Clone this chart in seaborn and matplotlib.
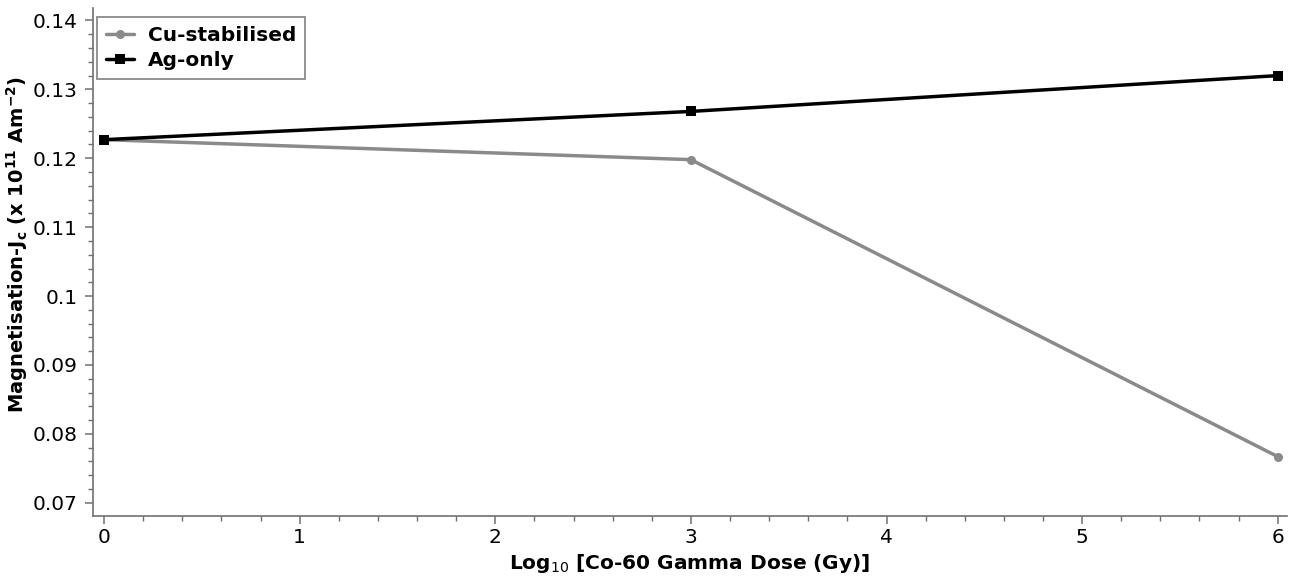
import matplotlib
matplotlib.use("Agg")
import matplotlib.pyplot as plt
from matplotlib.ticker import MultipleLocator
import seaborn as sns
import pandas as pd

# Irradiation series: log10 dose vs magnetisation Jc
log_dose = [0, 3, 6]
cu_stabilised = [0.1227, 0.1198, 0.0767]
ag_only = [0.1227, 0.1268, 0.1320]
series_names = ["Cu-stabilised", "Ag-only"]

df = pd.concat([
    pd.DataFrame({"dose": log_dose, "jc": cu_stabilised, "sample": series_names[0]}),
    pd.DataFrame({"dose": log_dose, "jc": ag_only, "sample": series_names[1]}),
])

sns.set_style("ticks")
plt.rcParams["font.family"] = ["DejaVu Sans"]

fig = plt.figure(figsize=(12.93, 5.77), dpi=100)
ax = fig.add_axes([0.072, 0.106, 0.923, 0.880])

palette = {"Cu-stabilised": "#8a8a8a", "Ag-only": "#000000"}
markers = {"Cu-stabilised": "o", "Ag-only": "s"}
sns.lineplot(data=df, x="dose", y="jc", hue="sample", style="sample",
             palette=palette, markers=markers, dashes=False, linewidth=2.5,
             markersize=6.5, markeredgewidth=0, ax=ax)

ax.set_xlim(-0.056, 6.045)
ax.set_ylim(0.0681, 0.1418)
ax.xaxis.set_major_locator(MultipleLocator(1))
ax.xaxis.set_minor_locator(MultipleLocator(0.2))
ax.yaxis.set_minor_locator(MultipleLocator(0.002))
ax.set_yticks([0.07, 0.08, 0.09, 0.1, 0.11, 0.12, 0.13, 0.14])
ax.set_yticklabels(["0.07", "0.08", "0.09", "0.1", "0.11", "0.12", "0.13", "0.14"])

for side in ["top", "right"]:
    ax.spines[side].set_visible(False)
for side in ["left", "bottom"]:
    ax.spines[side].set_color("#707070")
    ax.spines[side].set_linewidth(1.2)

ax.tick_params(axis="both", which="major", direction="out", length=6,
               width=1.1, color="#707070", labelsize=14.5, labelcolor="#000000",
               pad=3)
ax.tick_params(axis="y", which="major", pad=5)
ax.tick_params(axis="both", which="minor", direction="out", length=3.5,
               width=1.0, color="#707070")

ax.set_xlabel("Log$_{10}$ [Co-60 Gamma Dose (Gy)]", fontsize=14.5,
              fontweight="bold", labelpad=3, color="#000000")
ax.set_ylabel("Magnetisation-J$_\\mathbf{c}$ (x 10$^{\\mathbf{11}}$ Am$^{\\mathbf{-2}}$)",
              fontsize=14, fontweight="bold", color="#000000")
ax.yaxis.set_label_coords(-0.053, 0.535)

leg = ax.legend(title=None, loc="upper left", bbox_to_anchor=(0.003, 0.982),
                borderaxespad=0, fancybox=False, framealpha=1,
                edgecolor="#808080", prop={"weight": "bold", "size": 14.5},
                handlelength=1.4, borderpad=0.45, labelspacing=0.3,
                handletextpad=0.7)
leg.get_frame().set_linewidth(1.2)
for t in leg.get_texts():
    t.set_color("#000000")

fig.savefig("out.png", dpi=100)
